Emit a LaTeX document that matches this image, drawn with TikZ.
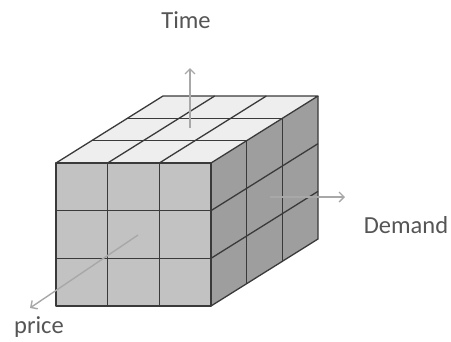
\documentclass[tikz,border=0pt]{standalone}
\usepackage{fontspec}
\setmainfont{Carlito}
\usetikzlibrary{arrows.meta,calc}
\definecolor{topgray}{HTML}{EEEEEE}
\definecolor{frontgray}{HTML}{C2C2C2}
\definecolor{sidegray}{HTML}{9E9E9E}
\definecolor{edgegray}{HTML}{3A3A3A}
\definecolor{axisgray}{HTML}{A8A8A8}
\definecolor{labelgray}{HTML}{555555}
\tikzset{
  cubeline/.style={edgegray, line width=1.3pt, line join=round},
  axis/.style={axisgray, line width=1.4pt, -{Straight Barb[length=5pt,width=10pt]}},
  axislabel/.style={labelgray, font=\fontsize{24.5}{28}\selectfont, inner sep=0pt},
}
\begin{document}
\begin{tikzpicture}[x=1pt, y=-1pt]
  \useasboundingbox (0,0) rectangle (451,341);
  % cube corners (front face, then back)
  \coordinate (A) at (56,163);
  \coordinate (B) at (211,163);
  \coordinate (C) at (211,306);
  \coordinate (D) at (56,306);
  \coordinate (E) at (163,96);
  \coordinate (F) at (318,96);
  \coordinate (G) at (318,239);
  % faces
  \fill[frontgray] (A) -- (B) -- (C) -- (D) -- cycle;
  \fill[topgray] (A) -- (B) -- (F) -- (E) -- cycle;
  \fill[sidegray] (B) -- (F) -- (G) -- (C) -- cycle;
  % grid
  \foreach \i in {1,2} {
    \draw[cubeline] ($(A)!\i/3!(B)$) -- ($(D)!\i/3!(C)$);
    \draw[cubeline] ($(A)!\i/3!(D)$) -- ($(B)!\i/3!(C)$);
    \draw[cubeline] ($(A)!\i/3!(E)$) -- ($(B)!\i/3!(F)$);
    \draw[cubeline] ($(A)!\i/3!(B)$) -- ($(E)!\i/3!(F)$);
    \draw[cubeline] ($(B)!\i/3!(C)$) -- ($(F)!\i/3!(G)$);
    \draw[cubeline] ($(B)!\i/3!(F)$) -- ($(C)!\i/3!(G)$);
  }
  \draw[cubeline] (A) -- (B) -- (C) -- (D) -- cycle;
  \draw[cubeline] (A) -- (E) -- (F) -- (B);
  \draw[cubeline] (F) -- (G) -- (C);
  % axes
  \coordinate (t0) at (190,128);
  \coordinate (t1) at (190,68);
  \coordinate (d0) at (270,197);
  \coordinate (d1) at (345,197);
  \coordinate (p0) at (138,235);
  \coordinate (p1) at (30,308);
  \draw[axis] (t0) -- (t1);
  \draw[axis] (d0) -- (d1);
  \draw[axis] (p0) -- (p1);
  \node[axislabel] (time) at (186,20) {Time};
  \node[axislabel] (demand) at (406,225) {Demand};
  \node[axislabel] (price) at (39,327) {price};
\end{tikzpicture}
\end{document}
